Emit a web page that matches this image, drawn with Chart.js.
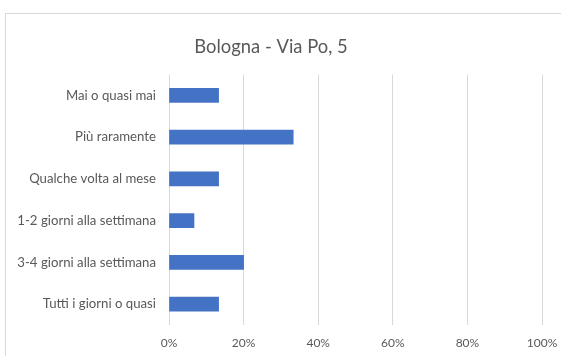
<!DOCTYPE html>
<html>
<head>
<meta charset="utf-8">
<script src="https://cdn.jsdelivr.net/npm/chart.js@4/dist/chart.umd.min.js"></script>
<style>
  html, body { margin: 0; padding: 0; background: #fff; overflow: hidden; }
  #frame { position: absolute; left: 5px; top: 13px; width: 620px; height: 420px; border: 1px solid #d9d9d9; box-sizing: border-box; }
  #wrap { position: absolute; left: 0; top: 0; width: 561px; height: 356px; }
</style>
</head>
<body>
<div id="frame"></div>
<div id="wrap"><canvas id="c" width="561" height="356"></canvas></div>
<script>
const titleText = "Bologna - Via Po, 5";
const categories = [
  "Mai o quasi mai",
  "Più raramente",
  "Qualche volta al mese",
  "1-2 giorni alla settimana",
  "3-4 giorni alla settimana",
  "Tutti i giorni o quasi"
];
const values = [13.3, 33.3, 13.3, 6.7, 20.0, 13.3];
const xTickValues = [0, 20, 40, 60, 80, 100];

const FONT = "Lato, 'Open Sans', sans-serif";
const TEXT = "#595959";

new Chart(document.getElementById("c"), {
  type: "bar",
  data: {
    labels: categories,
    datasets: [{
      data: values,
      backgroundColor: "#4472c4",
      borderWidth: 0,
      barThickness: 14
    }]
  },
  options: {
    indexAxis: "y",
    responsive: false,
    animation: false,
    devicePixelRatio: 1,
    layout: { padding: { top: 0, left: 0, right: 19, bottom: 5.6 } },
    plugins: {
      legend: { display: false },
      tooltip: { enabled: false },
      title: {
        display: true,
        text: titleText,
        color: TEXT,
        font: { family: FONT, size: 18.4, weight: "normal" },
        padding: { top: 36, bottom: 16.4 }
      }
    },
    scales: {
      x: {
        min: 0,
        max: 100,
        afterBuildTicks: (s) => { s.ticks = xTickValues.map(v => ({ value: v })); },
        grid: { color: "#d9d9d9", drawTicks: false, lineWidth: 1 },
        border: { display: false },
        ticks: {
          color: TEXT,
          padding: 11,
          font: { family: FONT, size: 12 },
          maxRotation: 0,
          callback: (v) => v + "%"
        },
        afterFit: (s) => { s.height = 25.4; s.paddingRight = 0; s.paddingLeft = 0; }
      },
      y: {
        grid: { display: false, drawTicks: false },
        border: { display: false },
        ticks: {
          color: TEXT,
          padding: 13,
          font: { family: FONT, size: 13.2 }
        },
        afterFit: (s) => { s.width = 169; }
      }
    }
  }
});
</script>
</body>
</html>
